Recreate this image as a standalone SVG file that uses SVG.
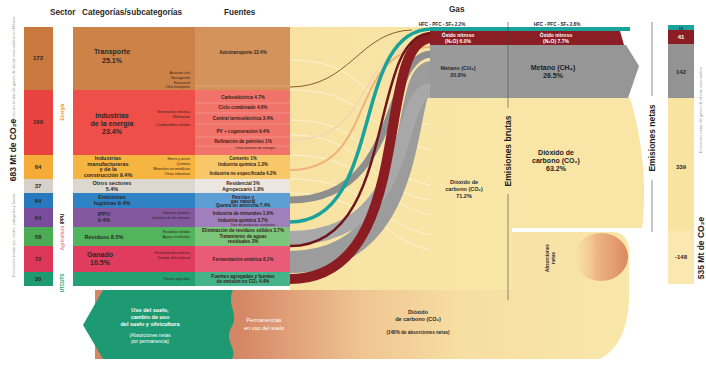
<svg xmlns="http://www.w3.org/2000/svg" width="706" height="368" viewBox="0 0 706 368">
<defs>
<style>
text{font-family:"Liberation Sans",Arial,sans-serif;}
.h{font-size:8.2px;font-weight:bold;fill:#2a2a2a}
.v{font-size:6px;font-weight:bold;fill:#2a2a2a;text-anchor:middle}
.c{font-size:7px;font-weight:bold;fill:#2a2a2a;text-anchor:middle}
.cs{font-size:5.5px;font-weight:bold;fill:#2a2a2a;text-anchor:middle}
.s{font-size:4.6px;font-weight:bold;fill:#33241a;text-anchor:middle}
.t{font-size:3.6px;fill:#33241a;text-anchor:end}
.g{font-size:5.5px;font-weight:bold;fill:#2a2a2a;text-anchor:middle}
.gb{font-size:7px;font-weight:bold;fill:#222;text-anchor:middle}
.gw{font-size:5px;font-weight:bold;fill:#fff;text-anchor:middle}
.ax{font-size:8.5px;font-weight:bold;fill:#222;text-anchor:middle}
.axg{font-size:4px;fill:#9a9a9a;text-anchor:middle}
.bw{font-size:5.5px;font-weight:bold;fill:#fff;text-anchor:middle}
.line{stroke:#444;stroke-width:0.6;fill:none}
.st{fill:none}
.div{stroke:#fff;stroke-opacity:0.35;stroke-width:0.6}
</style>
<linearGradient id="band" x1="95" y1="0" x2="630" y2="0" gradientUnits="userSpaceOnUse">
<stop offset="0" stop-color="#d48764"/>
<stop offset="0.27" stop-color="#d48764"/>
<stop offset="0.38" stop-color="#e2a47c"/>
<stop offset="0.5" stop-color="#efc592"/>
<stop offset="0.68" stop-color="#f7dea2"/>
<stop offset="1" stop-color="#f9e7aa"/>
</linearGradient>
<linearGradient id="ell" x1="570" y1="0" x2="630" y2="0" gradientUnits="userSpaceOnUse">
<stop offset="0" stop-color="#f6d9a0" stop-opacity="0"/>
<stop offset="0.45" stop-color="#eeb583"/>
<stop offset="1" stop-color="#d9875e"/>
</linearGradient>
<linearGradient id="flow" x1="290" y1="0" x2="510" y2="0" gradientUnits="userSpaceOnUse">
<stop offset="0" stop-color="#f7e2a2"/>
<stop offset="1" stop-color="#f9e7a8"/>
</linearGradient>
</defs>
<rect width="706" height="368" fill="#fff"/>

<!-- headers -->
<g id="headers">
<text class="h" x="50" y="15">Sector</text>
<text class="h" x="82" y="15">Categorías/subcategorías</text>
<text class="h" x="224" y="15">Fuentes</text>
<text class="h" x="449" y="12">Gas</text>
</g>

<!-- left axis -->
<g id="axis-left">
<text class="axg" transform="translate(15,70) rotate(-90)">Emisiones brutas de gases de efecto invernadero en México</text>
<text class="ax" transform="translate(16,150) rotate(-90)">683 Mt de CO₂e</text>
<text class="axg" transform="translate(15,235) rotate(-90)">Emisiones brutas por sector, categoría y fuente</text>
</g>

<!-- bottom band (UTCUTS) -->
<g id="utcuts-band">
<path d="M95,290 L512,290 L512,232 L612,232 Q629,232 629,252 L629,300 Q627,345 600,359 L95,359 Z" fill="url(#band)"/>
<ellipse cx="601" cy="257" rx="27" ry="24" fill="url(#ell)"/>
<path d="M103,290 L233,290 C 226,304 240,316 231,328 C 224,340 238,350 232,359 L103,359 L83,325 Z" fill="#1e9a73"/>
<text class="bw" x="150" y="312">Uso del suelo,</text>
<text class="bw" x="150" y="319">cambio de uso</text>
<text class="bw" x="150" y="326">del suelo y silvicultura</text>
<text class="bw" x="150" y="337" style="font-weight:normal;font-size:4.8px">(Absorciones netas</text>
<text class="bw" x="150" y="343" style="font-weight:normal;font-size:4.8px">por permanencia)</text>
<text class="bw" x="264" y="322" style="font-weight:normal">Permanencias</text>
<text class="bw" x="264" y="330" style="font-weight:normal">en uso del suelo</text>
<text class="g" x="418" y="314">Dióxido</text>
<text class="g" x="418" y="321">de carbono (CO₂)</text>
<text class="g" x="418" y="334" style="font-size:4.6px">(148% de absorciones netas)</text>
<text class="g" transform="translate(549,258) rotate(-90)" style="font-size:4.6px">Absorciones</text>
<text class="g" transform="translate(555,258) rotate(-90)" style="font-size:4.6px">netas</text>
</g>

<!-- flow background & gas column -->
<g id="gas-co2">
<rect x="290" y="27" width="222" height="263" fill="url(#flow)"/>
<path d="M510,98 L630,98 C 640,130 648,180 642,228 L510,228 Z" fill="#f9e6a6"/>
<text class="g" x="464" y="184">Dióxido de</text>
<text class="g" x="464" y="191">carbono (CO₂)</text>
<text class="g" x="464" y="198">71.2%</text>
<text class="gb" x="556" y="155">Dióxido de</text>
<text class="gb" x="556" y="163">carbono (CO₂)</text>
<text class="gb" x="556" y="171">63.2%</text>
</g>

<!-- connectors -->
<g id="connectors">
<g stroke="#fffaf0" stroke-width="0.7" stroke-opacity="0.9" class="st">
<path d="M290,90 C 370,90 360,130 430,150"/>
<path d="M290,120 C 370,120 360,170 430,185"/>
<path d="M290,155 C 370,155 370,200 430,215"/>
<path d="M290,179 C 370,179 370,222 430,235"/>
<path d="M290,193 C 370,193 380,240 430,250"/>
<path d="M290,135 C 370,135 365,190 430,200"/>
<path d="M290,60 C 370,60 360,110 430,125"/>
</g>
<path class="st" d="M290,87 C 350,87 360,31 412,30" stroke="#8a5a30" stroke-width="1"/>
<path class="st" d="M290,170 C 380,170 345,47 432,47" stroke="#f2b27a" stroke-width="2"/>
<path class="st" d="M290,140 C 380,140 350,44 432,44" stroke="#f7d2b0" stroke-width="1.5"/>
<path class="st" d="M290,262 C 430,262 398,72 432,72" stroke="#9c9c9c" stroke-width="22"/>
<path class="st" d="M290,238 C 420,238 392,90 432,90" stroke="#a8a8a8" stroke-width="14"/>
<path class="st" d="M290,200 C 405,200 382,54 432,54" stroke="#8e8e8e" stroke-width="7"/>
<path class="st" d="M290,279 C 420,279 372,38 432,38" stroke="#8a1c22" stroke-width="10"/>
<path class="st" d="M290,246 C 400,246 366,33 432,33" stroke="#6e161b" stroke-width="2.5"/>
<path class="st" d="M290,222 C 385,222 350,29 432,29" stroke="#1aa39a" stroke-width="3.5"/>
</g>

<!-- gas bands -->
<g id="gas-ch4">
<rect x="430" y="45" width="80" height="53" fill="#9a9a9a"/>
<path d="M510,45 L626,45 L639,66 L628,98 L510,98 Z" fill="#969696"/>
<text class="g" x="458" y="70">Metano (CH₄)</text>
<text class="g" x="458" y="77">20.8%</text>
<text class="gb" x="553" y="70">Metano (CH₄)</text>
<text class="gb" x="553" y="78">26.5%</text>
</g>
<g id="gas-n2o">
<rect x="430" y="31" width="80" height="14" fill="#8b1e24"/>
<path d="M510,31 L620,31 L624,45 L510,45 Z" fill="#8b1e24"/>
<text class="gw" x="458" y="37">Óxido nitroso</text>
<text class="gw" x="458" y="43">(N₂O) 6.0%</text>
<text class="gw" x="556" y="37">Óxido nitroso</text>
<text class="gw" x="556" y="43">(N₂O) 7.7%</text>
</g>
<g id="gas-hfc">
<rect x="430" y="27" width="200" height="4" fill="#1aa39a"/>
<text class="g" x="442" y="26" style="font-size:4.6px">HFC - PFC - SF₆ 2.2%</text>
<text class="g" x="557" y="26" style="font-size:4.6px">HFC - PFC - SF₆ 2.8%</text>
</g>

<!-- vertical separators -->
<g id="emisiones-brutas">
<path class="line" d="M508,22 V108 M508,194 V300"/>
<text class="ax" transform="translate(511,151) rotate(-90)">Emisiones brutas</text>
</g>
<g id="emisiones-netas">
<path class="line" d="M652,22 V96 M652,180 V232"/>
<text class="ax" transform="translate(655,138) rotate(-90)">Emisiones netas</text>
</g>

<!-- net bar -->
<g id="net-bar">
<rect x="668" y="25" width="26" height="5" fill="#1aa39a"/>
<rect x="668" y="30" width="26" height="14" fill="#8b1e24"/>
<rect x="668" y="44" width="26" height="54" fill="#939393"/>
<rect x="668" y="98" width="26" height="133" fill="#f9e3a0"/>
<rect x="668" y="231" width="26" height="53" fill="#fae8b0"/>
<text class="v" x="681" y="29.5" style="font-size:4px">15</text>
<text class="v" x="681" y="39" style="fill:#fff">41</text>
<text class="v" x="681" y="74">142</text>
<text class="v" x="681" y="169">339</text>
<text class="v" x="681" y="259">-148</text>
</g>

<!-- right axis -->
<g id="axis-right">
<text class="axg" transform="translate(702,110) rotate(-90)">Emisiones netas de gases de efecto invernadero</text>
<text class="ax" transform="translate(704,248) rotate(-90)">535 Mt de CO₂e</text>
</g>

<!-- sector labels between columns -->
<g id="sector-tags">
<text class="s" transform="translate(64,112) rotate(-90)" style="fill:#f0a030">Energía</text>
<text class="s" transform="translate(64,219) rotate(-90)">IPPU</text>
<text class="s" transform="translate(64,238) rotate(-90)" style="fill:#ee8aa0">Agricultura</text>
<text class="s" transform="translate(64,283) rotate(-90)" style="fill:#2aa070">UTCUTS</text>
</g>

<!-- nodes -->
<g id="transporte">
<rect x="24" y="27" width="29" height="63" fill="#c9793e"/>
<rect x="73" y="27" width="122" height="63" fill="#cd8248"/>
<rect x="195" y="27" width="95" height="63" fill="#d4935a"/>
<text class="v" x="38" y="60">172</text>
<text class="c" x="112" y="54">Transporte</text>
<text class="c" x="112" y="63">25.1%</text>
<text class="t" x="190" y="74">Aviación civil</text>
<text class="t" x="190" y="79">Navegación</text>
<text class="t" x="190" y="84">Ferrocarril</text>
<text class="t" x="190" y="88">Otro transporte</text>
<text class="s" x="243" y="54">Autotransporte 22.4%</text>
<line class="div" x1="195" y1="86" x2="290" y2="86"/>
</g>
<g id="energia">
<rect x="24" y="90" width="29" height="65" fill="#e8433f"/>
<rect x="73" y="90" width="122" height="65" fill="#ee4f49"/>
<rect x="195" y="90" width="95" height="65" fill="#f2736a"/>
<text class="v" x="38" y="124">160</text>
<text class="c" x="112" y="118">Industrias</text>
<text class="c" x="112" y="126">de la energía</text>
<text class="c" x="112" y="134">23.4%</text>
<text class="t" x="190" y="113">Generación eléctrica</text>
<text class="t" x="190" y="118">Refinación</text>
<text class="t" x="190" y="126">Combustibles sólidos</text>
<text class="s" x="243" y="99">Carboeléctrica 4.7%</text>
<text class="s" x="243" y="109">Ciclo combinado 4.6%</text>
<text class="s" x="243" y="120">Central termoeléctrica 3.4%</text>
<text class="s" x="243" y="133">PV + cogeneración 9.4%</text>
<text class="s" x="243" y="143">Refinación de petróleo 1%</text>
<text class="t" x="275" y="149">Otras fuentes de energía</text>
<line class="div" x1="195" y1="103" x2="290" y2="103"/>
<line class="div" x1="195" y1="113" x2="290" y2="113"/>
<line class="div" x1="195" y1="124" x2="290" y2="124"/>
<line class="div" x1="195" y1="137" x2="290" y2="137"/>
<line class="div" x1="195" y1="146" x2="290" y2="146"/>
</g>
<g id="manufactura">
<rect x="24" y="155" width="29" height="24" fill="#f4ab38"/>
<rect x="73" y="155" width="122" height="24" fill="#f6b440"/>
<rect x="195" y="155" width="95" height="24" fill="#f8c868"/>
<text class="v" x="38" y="169">64</text>
<text class="cs" x="108" y="160">Industrias</text>
<text class="cs" x="108" y="166">manufactureras</text>
<text class="cs" x="108" y="171">y de la</text>
<text class="cs" x="108" y="177">construcción 9.4%</text>
<text class="t" x="190" y="160">Hierro y acero</text>
<text class="t" x="190" y="165">Química</text>
<text class="t" x="190" y="170">Minerales no metálicos</text>
<text class="t" x="190" y="175">Otras industrias</text>
<text class="s" x="243" y="160">Cemento 1%</text>
<text class="s" x="243" y="166">Industria química 1.3%</text>
<text class="s" x="243" y="175">Industria no especificada 4.2%</text>
</g>
<g id="otros-sectores">
<rect x="24" y="179" width="29" height="14" fill="#d6d2ca"/>
<rect x="73" y="179" width="122" height="14" fill="#dcd8d0"/>
<rect x="195" y="179" width="95" height="14" fill="#ebe7e0"/>
<text class="v" x="38" y="188">37</text>
<text class="cs" x="112" y="185">Otros sectores</text>
<text class="cs" x="112" y="191">5.4%</text>
<text class="s" x="243" y="185">Residencial 3%</text>
<text class="s" x="243" y="191">Agropecuario 1.8%</text>
</g>
<g id="fugitivas">
<rect x="24" y="193" width="29" height="15" fill="#2878bd"/>
<rect x="73" y="193" width="122" height="15" fill="#2f82c4"/>
<rect x="195" y="193" width="95" height="15" fill="#5d9fd4"/>
<text class="v" x="38" y="203">64</text>
<text class="cs" x="112" y="199">Emisiones</text>
<text class="cs" x="112" y="205">fugitivas 9.4%</text>
<text class="s" x="243" y="199">Petróleo y</text>
<text class="s" x="243" y="203">gas natural</text>
<text class="s" x="243" y="207">Quema en antorcha 7.4%</text>
</g>
<g id="ippu">
<rect x="24" y="208" width="29" height="19" fill="#7a4d9c"/>
<rect x="73" y="208" width="122" height="19" fill="#84589f"/>
<rect x="195" y="208" width="95" height="19" fill="#a07fbc"/>
<text class="v" x="38" y="220">64</text>
<text class="cs" x="104" y="216">IPPU</text>
<text class="cs" x="104" y="222">9.4%</text>
<text class="t" x="190" y="214">Industria química</text>
<text class="t" x="190" y="219">Industria de los metales</text>
<text class="s" x="243" y="215">Industria de minerales 1.9%</text>
<text class="s" x="243" y="222">Industria química 3.7%</text>
<text class="t" x="275" y="226">Uso de productos sustitutos</text>
</g>
<g id="residuos">
<rect x="24" y="227" width="29" height="19" fill="#4aad55"/>
<rect x="73" y="227" width="122" height="19" fill="#52b45c"/>
<rect x="195" y="227" width="95" height="19" fill="#7cc67c"/>
<text class="v" x="38" y="239">58</text>
<text class="cs" x="104" y="239">Residuos 8.5%</text>
<text class="t" x="190" y="233">Residuos sólidos</text>
<text class="t" x="190" y="238">Aguas residuales</text>
<text class="s" x="243" y="232">Eliminación de residuos sólidos 3.7%</text>
<text class="s" x="243" y="238">Tratamiento de aguas</text>
<text class="s" x="243" y="243">residuales 3%</text>
</g>
<g id="ganado">
<rect x="24" y="246" width="29" height="26" fill="#dc3658"/>
<rect x="73" y="246" width="122" height="26" fill="#e03c5e"/>
<rect x="195" y="246" width="95" height="26" fill="#ea5b7a"/>
<text class="v" x="38" y="261">72</text>
<text class="c" x="100" y="257">Ganado</text>
<text class="c" x="100" y="265">10.5%</text>
<text class="t" x="190" y="254">Fermentación entérica</text>
<text class="t" x="190" y="259">Gestión del estiércol</text>
<text class="s" x="243" y="261">Fermentación entérica 8.1%</text>
</g>
<g id="tierras">
<rect x="24" y="272" width="29" height="14" fill="#1d9a6f"/>
<rect x="73" y="272" width="122" height="14" fill="#23a074"/>
<rect x="195" y="272" width="95" height="14" fill="#45b38c"/>
<text class="v" x="38" y="281">30</text>
<text class="t" x="190" y="280">Tierras agrícolas</text>
<text class="s" x="243" y="278">Fuentes agregadas y fuentes</text>
<text class="s" x="243" y="283">de emisión no CO₂ 4.4%</text>
</g>
</svg>
